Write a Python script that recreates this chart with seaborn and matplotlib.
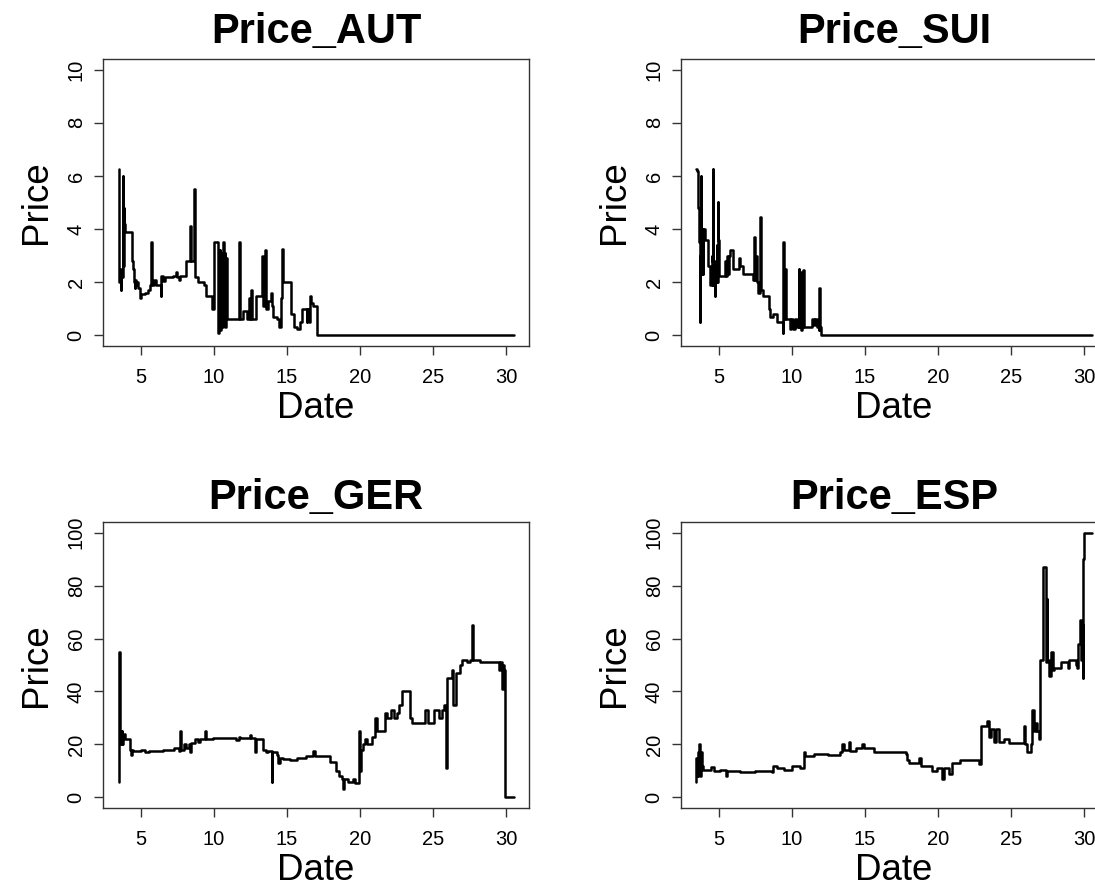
import numpy as np
import pandas as pd
import matplotlib
matplotlib.use("Agg")
import matplotlib.pyplot as plt
import seaborn as sns

aut_date = [3.49, 3.52, 3.58, 3.62, 3.68, 3.76, 3.80, 3.84, 3.88, 3.92, 4.43, 4.48, 4.52, 4.58, 4.62,
            4.70, 4.76, 4.84, 4.93, 5.05, 5.30, 5.50, 5.62, 5.73, 5.77, 5.90, 6.05, 6.37, 6.42, 6.55,
            6.65, 7.20, 7.45, 7.50, 7.62, 7.70, 8.09, 8.40, 8.44, 8.68, 8.72, 8.93, 9.35, 9.50, 9.89,
            10.00, 10.30, 10.36, 10.40, 10.44, 10.52, 10.56, 10.66, 10.70, 10.75, 10.80, 10.84, 10.88,
            11.74, 11.78, 11.97, 12.25, 12.38, 12.42, 12.50, 12.58, 12.62, 12.90, 13.30, 13.34, 13.40,
            13.52, 13.56, 13.70, 13.92, 13.96, 14.03, 14.30, 14.50, 14.58, 14.65, 14.75, 15.27, 15.49,
            15.70, 15.91, 16.02, 16.35, 16.41, 16.55, 16.59, 16.65, 16.82, 17.05, 30.54]
aut_price = [6.25, 2.0, 2.5, 1.7, 2.2, 6.0, 2.6, 4.8, 4.2, 3.9, 2.8, 2.5, 2.0, 1.8, 2.1,
             1.9, 2.0, 1.8, 1.4, 1.55, 1.6, 1.7, 1.9, 3.5, 1.9, 2.1, 1.9, 1.5, 2.25, 2.05,
             2.2, 2.25, 2.4, 2.2, 2.1, 2.25, 2.8, 4.1, 2.8, 5.5, 2.2, 2.0, 1.9, 1.5, 1.0,
             3.5, 0.1, 0.3, 3.2, 0.2, 3.1, 0.3, 3.5, 0.4, 3.1, 0.3, 2.9, 0.6,
             3.5, 0.6, 0.9, 0.6, 1.1, 1.4, 0.6, 1.7, 0.6, 1.5, 3.0, 1.5, 1.1,
             3.2, 1.0, 1.3, 1.6, 1.1, 0.7, 0.6, 0.3, 1.4, 3.25, 2.0, 0.8, 0.3,
             0.25, 0.5, 1.0, 0.5, 1.0, 0.5, 1.5, 1.2, 1.1, 0.0, 0.0]

sui_date = [3.44, 3.54, 3.58, 3.63, 3.70, 3.74, 3.79, 3.82, 3.86, 3.90, 3.95, 4.05, 4.29, 4.41, 4.52,
            4.56, 4.58, 4.61, 4.64, 4.68, 4.72, 4.78, 4.86, 4.90, 4.93, 4.97, 5.05, 5.43, 5.50, 5.55,
            5.62, 5.68, 5.78, 6.01, 6.40, 6.46, 6.69, 7.38, 7.45, 7.50, 7.56, 7.63, 7.72, 7.86, 7.90,
            8.02, 8.41, 8.52, 8.71, 8.98, 9.39, 9.43, 9.48, 9.55, 9.60, 9.89, 9.95, 10.12, 10.20, 10.35,
            10.47, 10.51, 10.58, 10.62, 10.70, 10.79, 10.84, 11.38, 11.50, 11.61, 11.70, 11.84, 11.89,
            11.94, 11.98, 15.84, 16.07, 30.53]
sui_price = [6.25, 6.2, 4.8, 3.5, 0.5, 3.0, 6.0, 2.3, 4.0, 2.3, 4.0, 3.6, 2.6, 1.9, 3.0,
             2.8, 1.9, 6.25, 2.0, 2.8, 1.5, 2.0, 3.4, 2.0, 5.0, 3.6, 2.25, 2.8, 2.25, 3.0,
             2.3, 3.0, 3.2, 2.5, 2.9, 2.6, 2.3, 2.1, 3.7, 2.1, 3.0, 2.0, 1.6, 4.45, 1.7,
             1.5, 1.0, 0.7, 0.8, 0.5, 0.1, 3.5, 0.6, 2.5, 0.6, 0.25, 0.6, 0.25, 0.6, 0.3,
             2.5, 0.3, 2.4, 0.2, 0.3, 2.45, 0.3, 0.6, 0.4, 0.6, 0.3, 0.2, 1.8,
             0.3, 0.0, 0.03, 0.0, 0.0]

ger_date = [3.49, 3.52, 3.56, 3.60, 3.64, 3.70, 3.75, 3.80, 3.90, 4.25, 4.31, 4.40, 4.47, 5.00, 5.30,
            5.60, 6.50, 7.30, 7.60, 7.72, 7.76, 7.95, 8.10, 8.30, 8.36, 8.47, 8.70, 8.90, 9.05, 9.39,
            9.45, 9.96, 11.50, 11.70, 11.80, 12.48, 12.55, 12.82, 12.88, 13.39, 13.55, 13.73, 13.98,
            14.01, 14.31, 14.42, 14.55, 14.76, 15.20, 15.68, 16.30, 16.82, 16.90, 17.96, 18.40, 18.55,
            18.76, 18.83, 18.90, 19.20, 19.50, 19.70, 19.97, 20.02, 20.10, 20.25, 20.36, 20.48, 20.80,
            21.05, 21.16, 21.74, 21.85, 22.10, 22.31, 22.54, 22.70, 22.88, 23.45, 23.55, 24.48, 24.70,
            25.05, 25.40, 25.62, 25.74, 25.93, 25.98, 26.31, 26.38, 26.60, 26.88, 26.99, 27.34, 27.56,
            27.70, 27.75, 28.25, 29.51, 29.60, 29.74, 29.82, 29.90, 29.94, 30.54]
ger_price = [6, 55, 35, 25, 20, 25, 20, 24, 22, 18, 16, 18, 17.5, 18, 17,
             17.5, 18, 18.5, 17.5, 25, 18, 20, 18.5, 20, 17, 20.5, 22, 21, 22, 25,
             22, 22.5, 21.5, 23, 22.5, 23.5, 22.5, 17, 22, 18, 17, 17.5, 6,
             17, 16, 13, 15, 14.5, 14, 15, 15.5, 17.5, 15.5, 13.5, 10, 8,
             7, 3, 7, 6, 7, 5.5, 25, 10, 18, 20, 22, 20, 23,
             30, 25, 32, 30, 33, 30, 32, 35, 40, 30, 28, 33, 28,
             33, 30, 33, 35, 11, 45, 48, 35, 47, 50, 52, 51, 52,
             65, 52, 51, 48, 51, 41, 50, 48, 0, 0]

esp_date = [3.44, 3.47, 3.55, 3.60, 3.67, 3.72, 3.76, 3.83, 3.95, 4.50, 4.70, 5.09, 5.50, 5.56, 6.46,
            7.50, 8.64, 8.75, 8.98, 9.44, 10.01, 10.58, 10.81, 10.92, 11.50, 12.50, 13.33, 13.44, 13.55,
            13.90, 14.01, 14.40, 14.81, 14.93, 15.61, 17.79, 17.90, 18.01, 18.70, 18.82, 19.62, 19.96,
            20.30, 20.42, 20.76, 20.99, 21.50, 22.82, 22.93, 23.39, 23.50, 23.62, 23.85, 24.00, 24.19,
            24.53, 24.88, 25.91, 25.98, 26.13, 26.36, 26.48, 26.59, 26.70, 26.82, 26.93, 26.98, 27.21,
            27.39, 27.46, 27.50, 27.62, 27.73, 27.85, 27.96, 28.42, 28.88, 28.99, 29.45, 29.52, 29.61,
            29.70, 29.79, 29.84, 29.91, 29.95, 30.02, 30.53]
esp_price = [6, 15, 8, 17, 20, 8, 17, 12, 10.5, 11.5, 10, 10.5, 8, 10, 9.5,
             10, 9.5, 12, 11, 10.5, 12, 11, 17, 15.5, 16.5, 16, 17, 20, 18,
             21, 17.5, 18.5, 20, 18.5, 17, 16.5, 14, 13, 15, 12, 10, 11,
             7, 11, 9, 13, 14, 12.5, 27, 29, 23, 26, 21, 26, 21,
             22, 20.5, 27, 20, 17, 20, 33, 25, 28, 25, 22, 52, 87,
             51, 75, 52, 46, 55, 48, 49, 51, 49, 52, 50, 49, 58,
             67, 52, 65, 45, 90, 100, 100]

titles = ["Price_AUT", "Price_SUI", "Price_GER", "Price_ESP"]
dates = [aut_date, sui_date, ger_date, esp_date]
prices = [aut_price, sui_price, ger_price, esp_price]
x_ticks = [5, 10, 15, 20, 25, 30]
y_ticks_small = [0, 2, 4, 6, 8, 10]
y_ticks_big = [0, 20, 40, 60, 80, 100]

sns.set_style("white")
plt.rcParams["font.family"] = ["Liberation Sans", "DejaVu Sans"]
plt.rcParams["text.color"] = "black"
plt.rcParams["axes.labelcolor"] = "black"

fig = plt.figure(figsize=(10.95, 8.89), dpi=100)
W, H = 1095, 889
boxes = [(103, 59, 529, 346), (681, 59, 1107, 346), (103, 522, 529, 808), (681, 522, 1107, 808)]

for i in range(4):
    l, t, r, b = boxes[i]
    ax = fig.add_axes([l / W, 1 - b / H, (r - l) / W, (b - t) / H])
    df = pd.DataFrame({"Date": dates[i], "Price": prices[i]})
    sns.lineplot(data=df, x="Date", y="Price", ax=ax, color="black", linewidth=1.8,
                 drawstyle="steps-post", estimator=None, sort=False)
    ax.set_xlim(2.42, 31.58)
    if i < 2:
        ax.set_ylim(-0.4, 10.4)
        ax.set_yticks(y_ticks_small)
    else:
        ax.set_ylim(-4, 104)
        ax.set_yticks(y_ticks_big)
    ax.set_xticks(x_ticks)
    for s in ax.spines.values():
        s.set_color("#333333")
        s.set_linewidth(1.0)
    ax.tick_params(axis="both", direction="out", length=6.5, width=1, color="#333333",
                   labelsize=14.5, labelcolor="black", bottom=True, left=True)
    ax.tick_params(axis="x", pad=9.5)
    ax.tick_params(axis="y", pad=6)
    for lab in ax.get_yticklabels():
        lab.set_rotation(90)
        lab.set_va("center")
    ax.set_xlabel("Date", fontsize=26.5, labelpad=2.5, color="black")
    ax.set_ylabel("Price", fontsize=26.5, labelpad=9, color="black")
    ax.set_title(titles[i], fontsize=30, fontweight="bold", color="black",
                 pad=11.5 if i < 2 else 9.5)
    ax.grid(False)

fig.savefig("out.png", dpi=100, facecolor="white")
